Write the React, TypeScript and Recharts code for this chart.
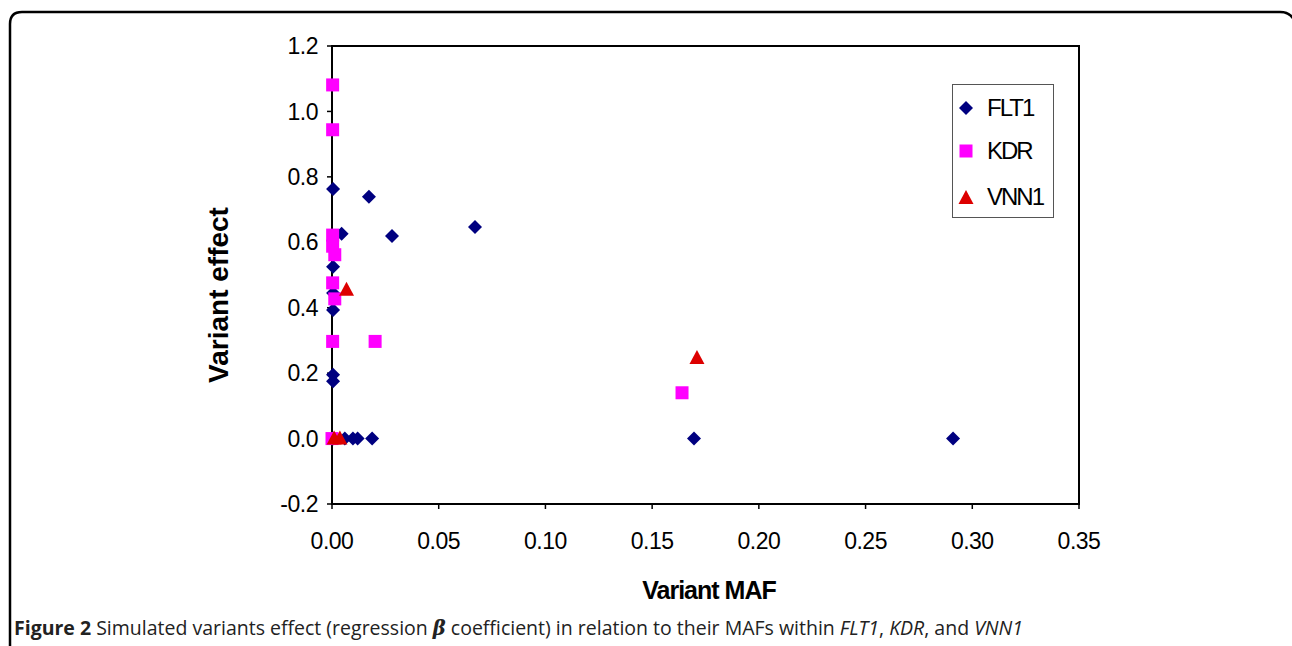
import React from "react";
import {
  ScatterChart,
  Scatter,
  XAxis,
  YAxis,
  ReferenceArea,
} from "recharts";

// ---- data ----
const flt1X = [0.0005, 0.0173, 0.0045, 0.0281, 0.067, 0.0005, 0.0005, 0.0005, 0.0005, 0.0005, 0.0005, 0.006, 0.0098, 0.012, 0.0188, 0.1696, 0.291];
const flt1Y = [0.763, 0.739, 0.626, 0.619, 0.647, 0.525, 0.445, 0.393, 0.195, 0.175, 0, 0, 0, 0, 0, 0, 0];

const kdrX = [0.0003, 0.0003, 0.0003, 0.0003, 0.0013, 0.0003, 0.0013, 0.0003, 0.0202, 0.164, 0.0];
const kdrY = [1.081, 0.944, 0.622, 0.588, 0.562, 0.476, 0.427, 0.297, 0.297, 0.14, 0];

const vnnX = [0.0068, 0.171, 0.001, 0.0037];
const vnnY = [0.455, 0.246, 0, 0];

const xTicks = [0, 0.05, 0.1, 0.15, 0.2, 0.25, 0.3, 0.35];
const yTicks = [-0.2, 0, 0.2, 0.4, 0.6, 0.8, 1.0, 1.2];

const seriesNames = ["FLT1", "KDR", "VNN1"];
const colors = ["#000080", "#FF00FF", "#DD0000"];

const flt1 = flt1X.map((x, i) => ({ x, y: flt1Y[i] }));
const kdr = kdrX.map((x, i) => ({ x, y: kdrY[i] }));
const vnn = vnnX.map((x, i) => ({ x, y: vnnY[i] }));

const Diamond = (p: any) => {
  const { cx, cy } = p;
  const r = 7;
  return (
    <path
      d={`M${cx},${cy - r}L${cx + r},${cy}L${cx},${cy + r}L${cx - r},${cy}Z`}
      fill={colors[0]}
    />
  );
};
const Square = (p: any) => {
  const { cx, cy } = p;
  return <rect x={cx - 6.5} y={cy - 6.5} width={13} height={13} fill={colors[1]} />;
};
const Triangle = (p: any) => {
  const { cx, cy } = p;
  return (
    <path
      d={`M${cx},${cy - 8}L${cx + 7.5},${cy + 6}L${cx - 7.5},${cy + 6}Z`}
      fill={colors[2]}
    />
  );
};

const tickStyle = {
  fill: "#000",
  fontSize: 23,
  fontFamily: "'Liberation Sans', Arial, sans-serif",
  letterSpacing: -0.5,
};

const LegendMarker = ({ i }: { i: number }) => (
  <svg width={20} height={20} style={{ display: "block" }}>
    {i === 0 && <Diamond cx={10} cy={10} />}
    {i === 1 && <Square cx={10} cy={10} />}
    {i === 2 && <Triangle cx={10} cy={11} />}
  </svg>
);

export default function App() {
  const legendY = [108, 151, 197];
  return (
    <div
      style={{
        position: "absolute",
        left: 0,
        top: 0,
        width: 1292,
        height: 646,
        overflow: "hidden",
        background: "#fff",
      }}
    >
      <div style={{ position: "absolute", left: 0, top: 0 }}>
        <ScatterChart
          width={1292}
          height={646}
          margin={{ top: 46, right: 213, bottom: 82, left: 0 }}
        >
          <XAxis
            type="number"
            dataKey="x"
            domain={[0, 0.35]}
            ticks={xTicks}
            height={60}
            tickSize={5}
            tickMargin={24}
            tick={tickStyle}
            tickFormatter={(v: number) => v.toFixed(2)}
            axisLine={{ stroke: "#000", strokeWidth: 2 }}
            tickLine={{ stroke: "#000", strokeWidth: 1.5 }}
            interval={0}
          />
          <YAxis
            type="number"
            dataKey="y"
            domain={[-0.2, 1.2]}
            ticks={yTicks}
            width={332}
            tickSize={5}
            tickMargin={9}
            tick={tickStyle}
            tickFormatter={(v: number) => v.toFixed(1)}
            axisLine={{ stroke: "#000", strokeWidth: 2 }}
            tickLine={{ stroke: "#000", strokeWidth: 1.5 }}
            interval={0}
          />
          <ReferenceArea
            x1={0}
            x2={0.35}
            y1={-0.2}
            y2={1.2}
            fill="none"
            fillOpacity={0}
            stroke="#000"
            strokeWidth={2}
            ifOverflow="visible"
          />
          <Scatter name={seriesNames[0]} data={flt1} shape={Diamond} isAnimationActive={false} />
          <Scatter name={seriesNames[1]} data={kdr} shape={Square} isAnimationActive={false} />
          <Scatter name={seriesNames[2]} data={vnn} shape={Triangle} isAnimationActive={false} />
        </ScatterChart>
      </div>

      {/* legend */}
      <div
        style={{
          position: "absolute",
          left: 952,
          top: 84,
          width: 100,
          height: 132,
          border: "1px solid #555",
          background: "#fff",
        }}
      />
      {seriesNames.map((n, i) => (
        <div
          key={n}
          style={{
            position: "absolute",
            left: 956,
            top: legendY[i] - 14,
            height: 28,
            display: "flex",
            alignItems: "center",
            fontFamily: "'Liberation Sans', Arial, sans-serif",
            fontSize: 24,
            letterSpacing: -2,
            color: "#000",
          }}
        >
          <LegendMarker i={i} />
          <span style={{ marginLeft: 11 }}>{n}</span>
        </div>
      ))}

      <svg
        width={1292}
        height={646}
        style={{ position: "absolute", left: 0, top: 0, pointerEvents: "none" }}
      >
        <path
          d="M10,646 L10,24 Q10,12 22,12 L1280,12 Q1290,12 1294,20"
          fill="none"
          stroke="#000"
          strokeWidth={2.5}
        />
        <text
          x={709}
          y={599}
          textAnchor="middle"
          fontFamily="'Liberation Sans', Arial, sans-serif"
          fontWeight="bold"
          fontSize={25}
          letterSpacing={-1}
        >
          Variant MAF
        </text>
        <text
          transform="translate(228,295) rotate(-90)"
          textAnchor="middle"
          fontFamily="'Liberation Sans', Arial, sans-serif"
          fontWeight="bold"
          fontSize={28}
        >
          Variant effect
        </text>
        <text x={14} y={635} fontFamily="'Open Sans', sans-serif" fontSize={19.5} fill="#222">
          <tspan fontWeight="bold">Figure 2</tspan>
          <tspan> Simulated variants effect (regression </tspan>
          <tspan fontFamily="'DejaVu Serif', serif" fontStyle="italic" fontWeight="bold">β</tspan>
          <tspan> coefficient) in relation to their MAFs within </tspan>
          <tspan fontStyle="italic">FLT1</tspan>
          <tspan>, </tspan>
          <tspan fontStyle="italic">KDR</tspan>
          <tspan>, and </tspan>
          <tspan fontStyle="italic">VNN1</tspan>
        </text>
      </svg>
    </div>
  );
}
